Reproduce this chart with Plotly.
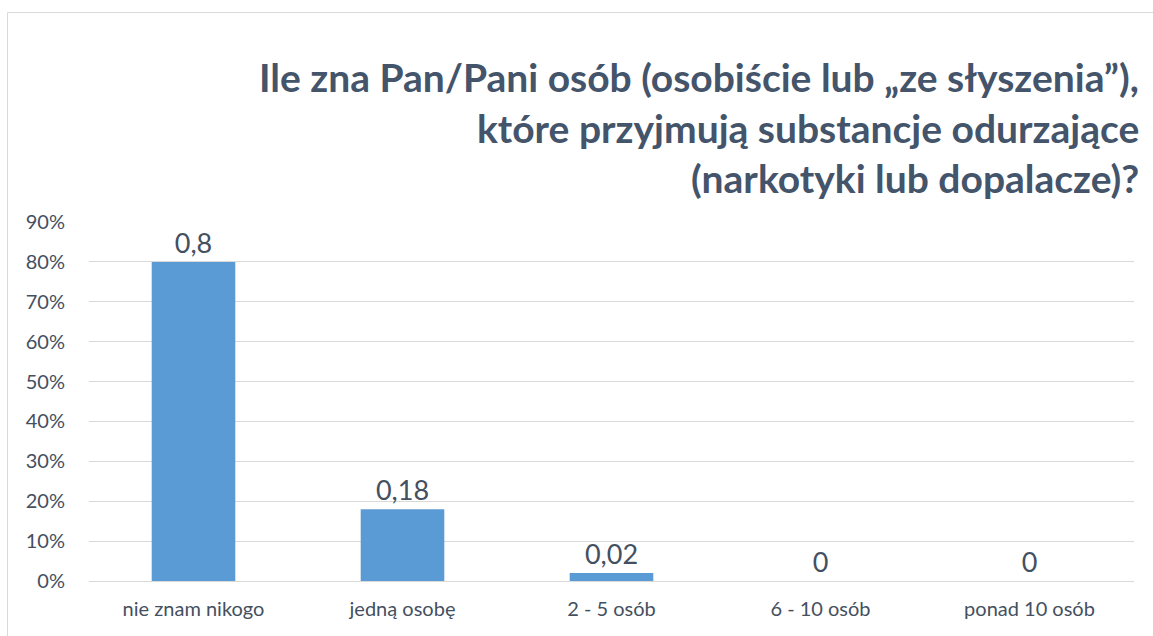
import plotly.graph_objects as go

categories = ["nie znam nikogo", "jedną osobę", "2 - 5 osób", "6 - 10 osób", "ponad 10 osób"]
shares = [0.8, 0.18, 0.02, 0, 0]
title_lines = [
    "Ile zna Pan/Pani osób (osobiście lub „ze słyszenia”),",
    "które przyjmują substancje odurzające",
    "(narkotyki lub dopalacze)?",
]
y_ticks = [i / 10 for i in range(10)]

FONT = "Lato"
TEXT_COLOR = "#44546A"
LABEL_COLOR = "#44505F"

# data labels in Polish decimal style, e.g. "0,18"
share_labels = [f"{v:g}".replace(".", ",") for v in shares]

fig = go.Figure(
    go.Bar(
        x=categories,
        y=shares,
        marker={"color": "#5B9BD5", "line": {"width": 0}},
        text=share_labels,
        texttemplate="%{text}",
        textposition="outside",
        cliponaxis=False,
        textfont={"size": 27, "color": LABEL_COLOR, "family": FONT},
        hoverinfo="skip",
    )
)

# plot area in pixels: left 89, right 1134, top(90%) 222, bottom(0%) 581
W, H = 1153, 636
L, R, T, B = 89, 1134, 222, 581


def px_x(p):
    return (p - L) / (R - L)


def px_y(p):
    return (B - p) / (B - T)


for line, ypix in zip(title_lines, [77, 128, 178]):
    fig.add_annotation(
        text=f"<b>{line}</b>",
        x=px_x(1141),
        y=px_y(ypix),
        xref="paper",
        yref="paper",
        xanchor="right",
        yanchor="middle",
        showarrow=False,
        font={"size": 39, "color": TEXT_COLOR, "family": FONT},
    )

fig.add_shape(
    type="rect",
    xref="paper",
    yref="paper",
    x0=px_x(7.5),
    x1=px_x(1165),
    y0=px_y(650),
    y1=px_y(12.5),
    line={"color": "#D9D9D9", "width": 1},
    layer="below",
)

fig.update_layout(
    width=W,
    height=H,
    margin={"l": L, "r": W - R, "t": T, "b": H - B},
    paper_bgcolor="white",
    plot_bgcolor="white",
    bargap=0.6,
    showlegend=False,
    font={"family": FONT, "color": TEXT_COLOR},
)
fig.update_xaxes(
    tickfont={"size": 20, "color": LABEL_COLOR},
    showline=False,
    ticks="",
    showgrid=False,
    ticklabelstandoff=14,
)
fig.update_yaxes(
    range=[0, 0.9],
    tickvals=y_ticks,
    tickformat=".0%",
    tickfont={"size": 20, "color": LABEL_COLOR},
    showgrid=True,
    gridcolor="#D9D9D9",
    gridwidth=1,
    zeroline=True,
    zerolinecolor="#D9D9D9",
    zerolinewidth=1,
    ticks="",
    ticklabelstandoff=23,
)

fig.write_html(
    "out.html",
    config={"displayModeBar": False},
    post_script="document.body.style.margin='0';",
)
